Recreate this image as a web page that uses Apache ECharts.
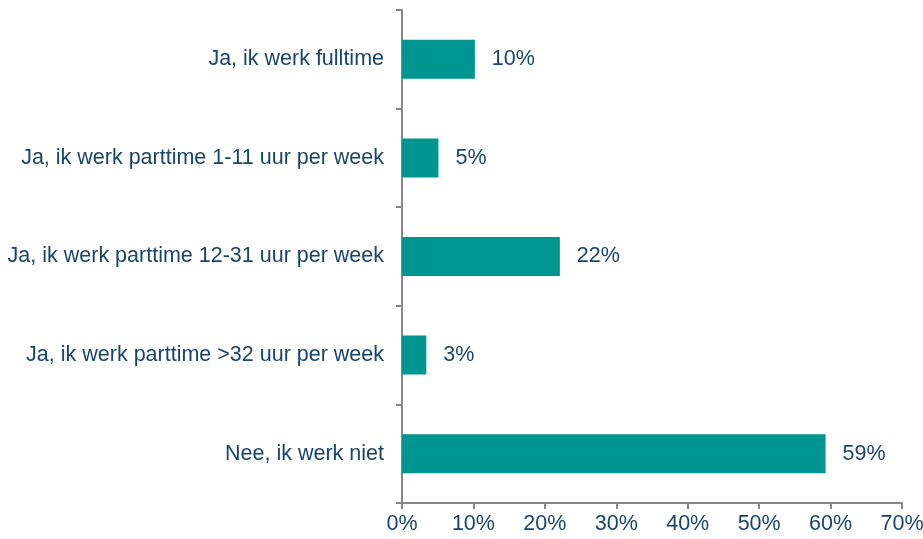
<!DOCTYPE html>
<html>
<head>
<meta charset="utf-8">
<script src="https://cdn.jsdelivr.net/npm/echarts@6/dist/echarts.min.js"></script>
<style>
  html, body { margin: 0; padding: 0; background: #fff; }
  #chart { width: 923px; height: 539px; }
</style>
</head>
<body>
<div id="chart"></div>
<script>
const categories = [
  'Ja, ik werk fulltime',
  'Ja, ik werk parttime 1-11 uur per week',
  'Ja, ik werk parttime 12-31 uur per week',
  'Ja, ik werk parttime >32 uur per week',
  'Nee, ik werk niet'
]
const values = [10.2, 5.1, 22.1, 3.4, 59.3]
const shownLabels = ['10%', '5%', '22%', '3%', '59%']

const textColor = '#17456E'
const axisColor = '#888888'

const option = {
  animation: false,
  grid: { left: 402, right: 21, top: 10, bottom: 36, containLabel: false, outerBoundsMode: 'none' },
  xAxis: {
    type: 'value',
    min: 0,
    max: 70,
    interval: 10,
    axisLine: { show: true, lineStyle: { color: axisColor, width: 2 } },
    axisTick: { show: true, length: 6, lineStyle: { color: axisColor, width: 2 } },
    splitLine: { show: false },
    axisLabel: {
      formatter: '{value}%',
      color: textColor,
      fontFamily: 'Liberation Sans',
      fontSize: 21.5,
      margin: 10
    }
  },
  yAxis: {
    type: 'category',
    inverse: true,
    data: categories,
    axisLine: { show: true, lineStyle: { color: axisColor, width: 2 } },
    axisTick: { show: true, length: 6, lineStyle: { color: axisColor, width: 2 } },
    axisLabel: {
      color: textColor,
      fontFamily: 'Liberation Sans',
      fontSize: 21.5,
      margin: 18
    }
  },
  series: [{
    type: 'bar',
    data: values,
    barWidth: 39,
    itemStyle: { color: '#009590' },
    label: {
      show: true,
      position: 'right',
      distance: 17,
      color: textColor,
      fontFamily: 'Liberation Sans',
      fontSize: 21.5,
      formatter: p => shownLabels[p.dataIndex]
    }
  }]
}

const chart = echarts.init(document.getElementById('chart'))
chart.setOption(option)
</script>
</body>
</html>
